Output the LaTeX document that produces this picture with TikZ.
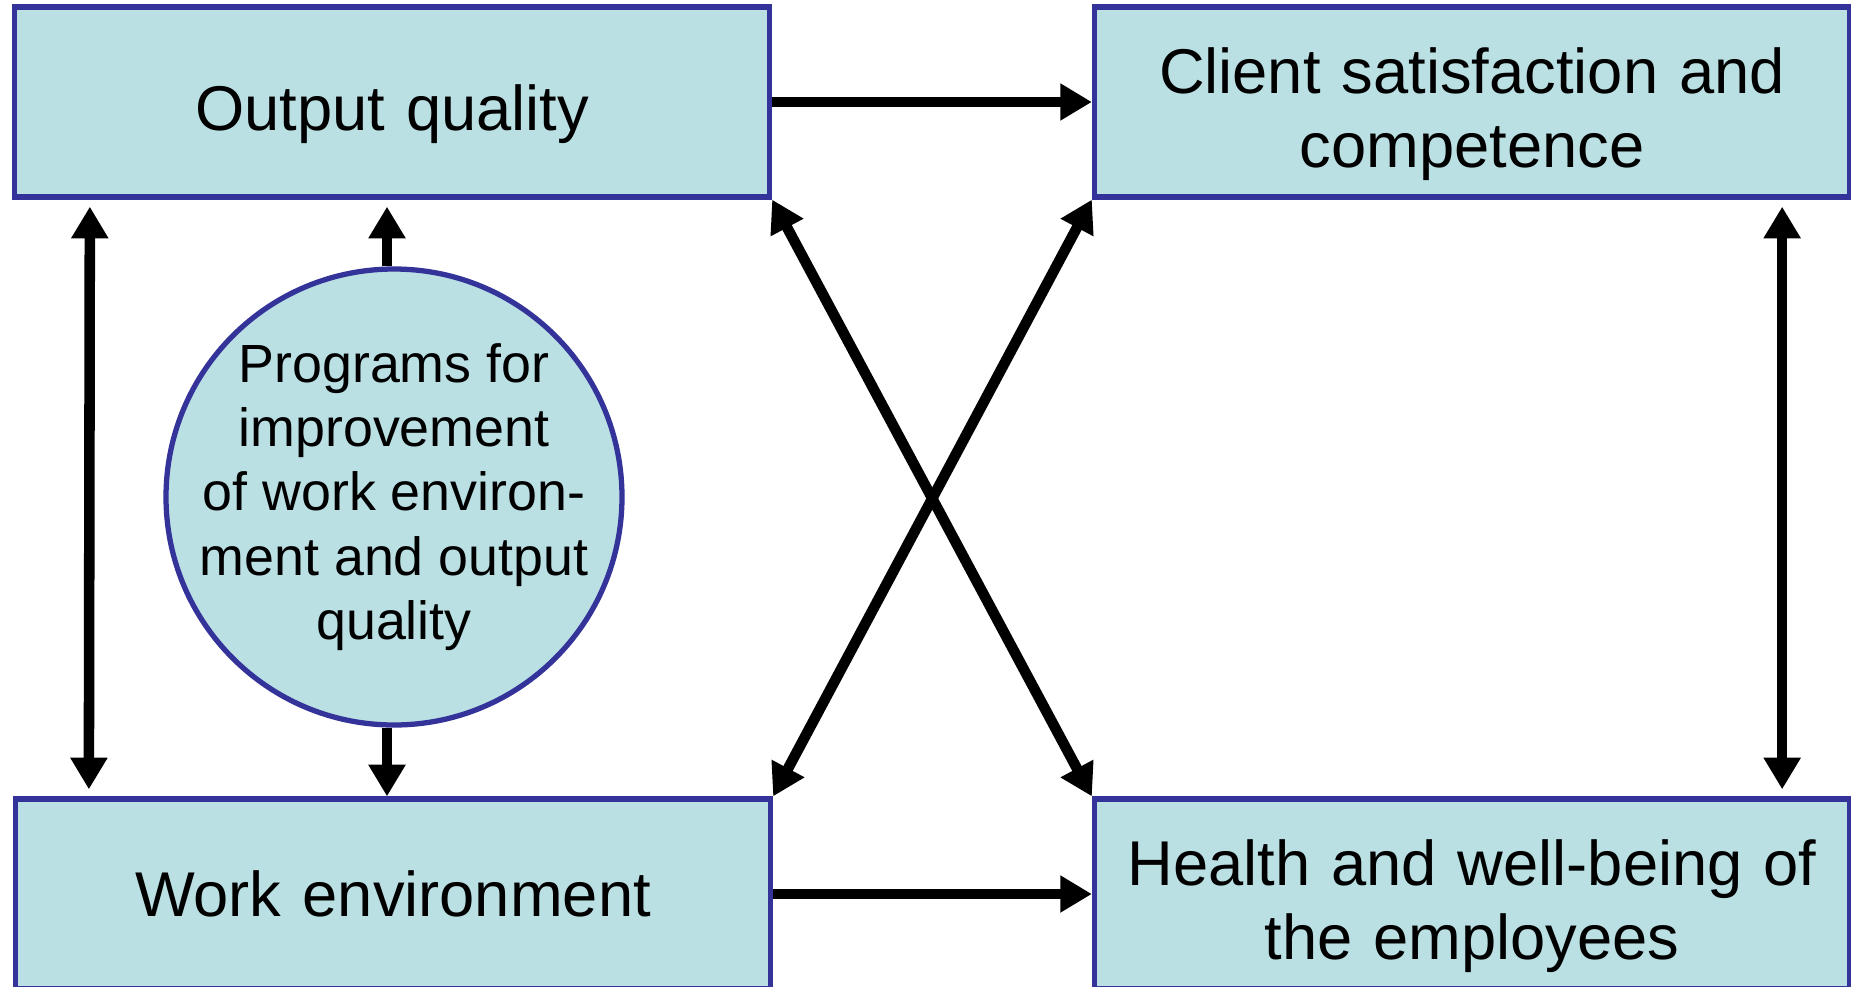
\documentclass[tikz,border=0pt]{standalone}
\usepackage{fontspec}
\setmainfont{Liberation Sans}
\usetikzlibrary{arrows.meta}

\definecolor{boxfill}{RGB}{186,224,228}
\definecolor{boxline}{RGB}{51,51,153}
\newcommand{\lowered}[1]{\raisebox{-1.2mm}[\height][\depth]{#1}}

\begin{document}
\begin{tikzpicture}[
		box/.style= {
				draw=boxline,
				fill=boxfill,
				line width=1.5pt,
				rectangle,
				minimum width=7.55cm,
				minimum height=1.9cm,
				text width=7.3cm,
				align=center,
				font=\fontsize{18}{21.2}\selectfont
			},
		prog/.style= {
				draw=boxline,
				fill=boxfill,
				line width=1.5pt,
				circle,
				inner sep=-3mm,
				minimum size=4.56cm,
				align=center,
				font=\fontsize{15.3}{18.3}\selectfont
			},
		myarrow/.style= {
				line width=3pt,
				-{Triangle[width=10pt,length=9pt]}
			},
		twoway/.style= {
				line width=3pt,
				{Triangle[width=10pt,length=9pt]}-{Triangle[width=10pt,length=9pt]}
			}
	]

	\useasboundingbox (0,0) rectangle (18.51,9.86);
	\clip (0,0) rectangle (18.51,9.86);

	\node[box] (quality) at (3.92,8.84) {\lowered{Output quality}};
	\node[box] (client) at (14.72,8.84) {\lowered{Client satisfaction and}\\\lowered{competence}};
	\node[box] (workenv) at (3.93,0.92) {Work environment};
	\node[box] (health) at (14.72,0.92) {\lowered{Health and well-being of}\\\lowered{the employees}};
	\node[prog] (programs) at (3.94,4.89) {Programs for\\improvement\\of work environ-\\ment and output\\quality};

	\draw[myarrow] (quality) -- (client);
	\draw[myarrow] (workenv) -- (health);
	\draw[twoway, shorten <=2pt, shorten >=2pt] ([xshift=7.8mm]quality.south west) -- ([xshift=7.6mm]workenv.north west);
	\draw[twoway, shorten <=2pt, shorten >=2pt] ([xshift=-7mm]client.south east) -- ([xshift=-7mm]health.north east);
	\draw[myarrow, shorten >=2pt] ([xshift=-0.7mm]programs.north) -- ([xshift=-0.7mm]programs.north |- quality.south);
	\draw[myarrow] ([xshift=-0.7mm]programs.south) -- ([xshift=-0.7mm]programs.south |- workenv.north);
	\draw[twoway] (quality.south east) -- (health.north west);
	\draw[twoway] (client.south west) -- (workenv.north east);
\end{tikzpicture}
\end{document}
